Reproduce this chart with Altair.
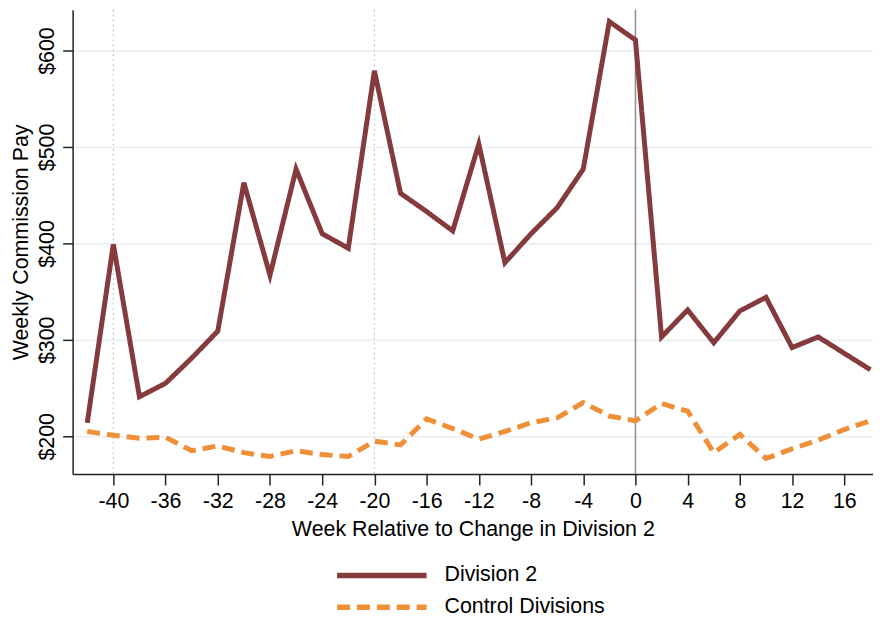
import altair as alt
import pandas as pd

weeks = [-42, -40, -38, -36, -34, -32, -30, -28, -26, -24, -22, -20, -18, -16, -14, -12,
         -10, -8, -6, -4, -2, 0, 2, 4, 6, 8, 10, 12, 14, 16, 18]
division2 = [214, 399, 241, 255, 281, 309, 463, 367, 477, 410, 395, 579, 452, 433, 413, 503,
             380, 410, 437, 477, 630, 611, 303, 331, 297, 330, 344, 292, 303, 286, 269]
control = [205, 201, 198, 199, 185, 190, 183, 179, 185, 181, 179, 195, 191, 218, 208, 197,
           205, 214, 219, 235, 221, 216, 234, 226, 183, 202, 177, 187, 196, 207, 216]
series_names = ["Division 2", "Control Divisions"]
series_colors = ["#853a3e", "#ef8f37"]
dotted_weeks = [-40, -20]
solid_weeks = [0]
x_ticks = [-40, -36, -32, -28, -24, -20, -16, -12, -8, -4, 0, 4, 8, 12, 16]
y_ticks = [200, 300, 400, 500, 600]

rows = []
for w, a, b in zip(weeks, division2, control):
    rows.append({"week": w, "pay": a, "series": series_names[0]})
    rows.append({"week": w, "pay": b, "series": series_names[1]})
df = pd.DataFrame(rows)

FONT = "Liberation Sans"
FS = 21.5

xscale = alt.Scale(domain=[-43.12, 18.2], nice=False, zero=False)
yscale = alt.Scale(domain=[160.8, 642.3], nice=False, zero=False)

legend_kw = dict(title=None, orient="none", legendX=296, legendY=554,
                 symbolType="M-3.75,0H3.75", symbolSize=576,
                 symbolStrokeWidth=5.5, labelFontSize=FS, labelFont=FONT,
                 labelColor="black", labelLimit=500, rowPadding=6, labelOffset=48)

lines = alt.Chart(df).mark_line(strokeWidth=5, strokeJoin="miter", strokeCap="butt").encode(
    x=alt.X("week:Q", scale=xscale,
            axis=alt.Axis(values=x_ticks, title="Week Relative to Change in Division 2",
                          labelExpr="'' + datum.value",
                          grid=False, tickSize=11, labelPadding=6, titlePadding=6)),
    y=alt.Y("pay:Q", scale=yscale,
            axis=alt.Axis(values=y_ticks, title="Weekly Commission Pay",
                          labelExpr="'$' + datum.value", labelAngle=270,
                          grid=True, tickSize=10, labelPadding=4, titlePadding=4)),
    color=alt.Color("series:N", scale=alt.Scale(domain=series_names, range=series_colors),
                    legend=alt.Legend(**legend_kw)),
    strokeDash=alt.StrokeDash("series:N",
                              scale=alt.Scale(domain=series_names, range=[[1, 0], [13, 7]]),
                              legend=alt.Legend(**legend_kw)),
    detail="series:N",
)

dotted = alt.Chart(pd.DataFrame({"week": dotted_weeks})).mark_rule(
    color="#bdbdbd", strokeWidth=1.2, strokeDash=[1.5, 3.5]).encode(
    x=alt.X("week:Q", scale=xscale))

solid = alt.Chart(pd.DataFrame({"week": solid_weeks})).mark_rule(
    color="#8c8c8c", strokeWidth=1.5).encode(
    x=alt.X("week:Q", scale=xscale))

chart = alt.layer(dotted, solid, lines).properties(
    width=805, height=467,
    autosize=alt.AutoSizeParams(type="none"),
    padding={"left": 65, "top": 0, "right": 0, "bottom": 144},
).configure_view(stroke=None).configure_axis(
    labelFont=FONT, titleFont=FONT, labelFontSize=FS, titleFontSize=FS,
    labelColor="black", titleColor="black", titleFontWeight="normal",
    domainColor="#222222", domainWidth=1.5, tickColor="#222222", tickWidth=1.5,
    gridColor="#e7eff2", gridWidth=1.6,
)

chart.save("out.html", embed_options={"renderer": "svg", "actions": False})
